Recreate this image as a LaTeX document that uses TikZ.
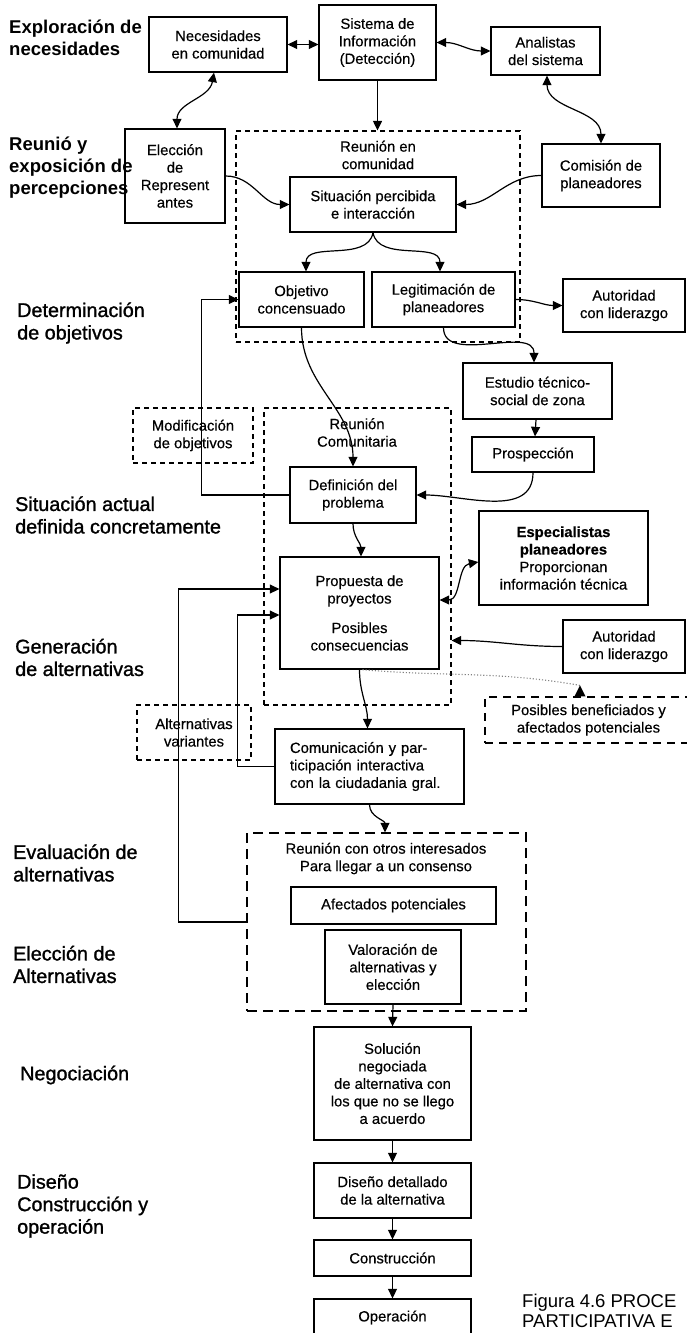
\documentclass[tikz,border=0pt]{standalone}
\usepackage{fontspec}
\setmainfont{Liberation Sans}
\newfontfamily\stagefamily[FakeBold=1.2]{Liberation Sans}
\newfontfamily\boxfamily[FakeBold=0.4]{Liberation Sans}
\usetikzlibrary{arrows.meta,calc}
\newcommand{\bxfont}{\boxfamily\fontsize{14.8}{17.5}\selectfont}
\newcommand{\stfont}{\stagefamily\fontsize{19.8}{22.5}\selectfont}
\newcommand{\stbffont}{\bfseries\fontsize{18.5}{22}\selectfont}
\newcommand{\capfont}{\fontsize{18.5}{20.5}\selectfont}

\begin{document}
\begin{tikzpicture}[x=1pt,y=-1pt,
  every node/.style={inner sep=0pt},
  box/.style={draw, line width=1.3pt, fill=white, align=center, font=\bxfont},
  zone/.style={draw, line width=1.2pt, dash pattern=on 5pt off 4pt},
  lzone/.style={draw, line width=1.3pt, dash pattern=on 10pt off 6pt},
  mzone/.style={draw, line width=1.2pt, dash pattern=on 8pt off 6pt},
  lbl/.style={align=center, font=\bxfont},
  stage/.style={anchor=west, align=left, font=\stfont},
  stagebf/.style={anchor=west, align=left, font=\stbffont},
  tip/.tip={Triangle[length=9.5pt,width=9pt]},
  arr/.style={line width=1.2pt, -tip},
  darr/.style={line width=1.2pt, tip-tip},
]
\useasboundingbox (0,0) rectangle (686,1333);
\fill[white] (0,0) rectangle (686,1333);

% ---- dashed meeting zones ----
\node[zone, minimum width=284pt, minimum height=211pt] (reg1) at (378,236.5) {};
\node[lbl] (reg1t) at (378,155) {Reunión en\\comunidad};
\node[zone, minimum width=187pt, minimum height=297pt] (reg2) at (357.5,556.5) {};
\node[lbl] (reg2t) at (357,432.5) {Reunión\\Comunitaria};
\node[zone, minimum width=120pt, minimum height=55pt, align=center, font=\bxfont] (mod) at (193,435.5) {Modificación\\de objetivos};
\node[zone, minimum width=114pt, minimum height=55pt, align=center, font=\bxfont] (alt) at (194,732.5) {Alternativas\\variantes};
\node[mzone, minimum width=207pt, minimum height=46pt, align=center, font=\bxfont] (pos) at (588.5,720) {Posibles beneficiados y\\afectados potenciales};
\node[lzone, minimum width=279pt, minimum height=178pt] (reg3) at (386.5,922) {};
\node[lbl] (reg3t) at (386,858.5) {Reunión con otros interesados\\Para llegar a un consenso};

% ---- process boxes ----
\node[box, minimum width=138pt, minimum height=55pt] (nec) at (218,44.5) {Necesidades\\en comunidad};
\node[box, minimum width=117pt, minimum height=75pt] (sis) at (377.5,42.5) {Sistema de\\Información\\(Detección)};
\node[box, minimum width=109pt, minimum height=48pt] (ana) at (545.5,51) {Analistas\\del sistema};
\node[box, minimum width=100pt, minimum height=94pt] (ele) at (175,176) {Elección\\de\\Represent\\antes};
\node[box, minimum width=166pt, minimum height=55pt] (sit) at (373,204.5) {Situación percibida\\e interacción};
\node[box, minimum width=118pt, minimum height=63pt] (com) at (601,175.5) {Comisión de\\planeadores};
\node[box, minimum width=125pt, minimum height=55pt] (obj) at (301.5,299.5) {Objetivo\\concensuado};
\node[box, minimum width=143pt, minimum height=55pt] (leg) at (443.5,299.5) {Legitimación de\\planeadores};
\node[box, minimum width=122pt, minimum height=53pt] (autA) at (624,305.5) {Autoridad\\con liderazgo};
\node[box, minimum width=149pt, minimum height=56pt] (est) at (537.5,391) {Estudio técnico-\\social de zona};
\node[box, minimum width=122pt, minimum height=35pt] (pro) at (533,454.5) {Prospección};
\node[box, minimum width=126pt, minimum height=56pt] (def) at (353,495) {Definición del\\problema};
\node[box, minimum width=169pt, minimum height=94pt] (esp) at (563.5,558) {\textbf{Especialistas}\\\textbf{planeadores}\\Proporcionan\\información técnica};
\node[box, minimum width=159pt, minimum height=112pt] (prop) at (359.5,613) {Propuesta de\\proyectos\\[12pt]Posibles\\consecuencias};
\node[box, minimum width=122pt, minimum height=53pt] (autB) at (624,646.5) {Autoridad\\con liderazgo};
\node[box, minimum width=189pt, minimum height=75pt, align=left, text width=159pt, inner xsep=15pt] (comu) at (369.5,766.5) {Comunicación y par-\\ticipación interactiva\\con la ciudadania gral.};
\node[box, minimum width=205pt, minimum height=37pt] (afe) at (393.5,905.5) {Afectados potenciales};
\node[box, minimum width=136pt, minimum height=74pt] (val) at (393,967) {Valoración de\\alternativas y\\elección};
\node[box, minimum width=157pt, minimum height=113pt] (sol) at (392.5,1083.5) {Solución\\negociada\\de alternativa con\\los que no se llego\\a acuerdo};
\node[box, minimum width=157pt, minimum height=55pt] (dis) at (392.5,1190.5) {Diseño detallado\\de la alternativa};
\node[box, minimum width=157pt, minimum height=36pt] (con) at (392.5,1258) {Construcción};
\node[box, minimum width=157pt, minimum height=37pt] (ope) at (392.5,1317.5) {Operación};

% ---- connectors ----
\draw[darr] (nec.east) -- (nec.east -| sis.west);
\draw[darr] (sis.east) to[out=0,in=180] (ana.west);
\draw[darr] ([xshift=-4pt]nec.south) to[out=-100,in=90] ([xshift=2pt]ele.north);
\draw[arr] (sis.south) -- (sis.south |- reg1.north);
\draw[darr] ([xshift=1.5pt]ana.south) to[out=-90,in=90] (com.north);
\draw[arr] (ele.east) to[out=0,in=180] (sit.west);
\draw[arr] (com.west) to[out=180,in=0] (sit.east);
\draw[arr] (sit.south) to[out=-100,in=90] ([xshift=4.5pt]obj.north);
\draw[arr] (sit.south) to[out=-80,in=90] ([xshift=-3.5pt]leg.north);
\draw[arr] (leg.east) to[out=0,in=180] (autA.west);
\draw[arr] (leg.south) to[out=-90,in=90] ([xshift=-3.5pt]est.north);
\draw[arr] (obj.south) to[out=-90,in=90] (def.north);
\draw[arr] (def.west) -- ++(-88,0) |- (obj.west);
\draw[arr] ([xshift=-1.5pt]est.south) -- ([xshift=2pt]pro.north);
\draw[arr] (pro.south) to[out=-90,in=0] (def.east);
\draw[arr] (def.south) to[out=-90,in=90] ([xshift=1.5pt]prop.north);
\draw[darr] ([yshift=13pt]prop.east) to[out=0,in=190] ([yshift=-4pt]esp.west);
\path (autB.west -| reg2.east) ++(0,-6) coordinate (autBin);
\draw[arr] (autB.west) to[out=180,in=0] (autBin);
\draw[arr] (prop.south) to[out=-90,in=90] ([xshift=-2pt]comu.north);
\coordinate (posin) at ([xshift=-8.5pt,yshift=11pt]pos.north);
\draw[gray, dotted, line width=1.1pt] ([xshift=3pt]prop.south) to[out=-5,in=170] (posin);
\fill (posin) -- ++(-5.5,11) -- ++(11,0) -- cycle;
\draw[arr] (comu.west) -- ++(-37,0) |- ([yshift=-2pt]prop.west);
\draw[arr] (reg3.west) -- ++(-68,0) |- ([yshift=24pt]prop.west);
\draw[arr] (comu.south) to[out=-90,in=90] ([xshift=-1.5pt]reg3.north);
\draw[arr] (val.south) -- (sol.north);
\draw[arr] (sol.south) -- (dis.north);
\draw[arr] (dis.south) -- (con.north);
\draw[arr] (con.south) -- (ope.north);

% ---- stage labels ----
\node[stagebf] (s1) at (9,38) {Exploración de\\necesidades};
\node[stagebf] (s2) at (9,168) {Reunió y\\exposición de\\percepciones};
\node[stage] (s3) at (17,323) {Determinación\\de objetivos};
\node[stage] (s4) at (15,515) {Situación actual\\definida concretamente};
\node[stage] (s5) at (15,657.5) {Generación\\de alternativas};
\node[stage] (s6) at (13,863) {Evaluación de\\alternativas};
\node[stage] (s7) at (13,964.5) {Elección de\\Alternativas};
\node[stage] (s8) at (20,1075) {Negociación};
\node[stage] (s9) at (17,1206) {Diseño\\Construcción y\\operación};

% ---- caption ----
\node[anchor=west, align=left, font=\capfont] (cap) at (522,1311) {Figura 4.6 PROCE\\PARTICIPATIVA E};
\end{tikzpicture}
\end{document}
